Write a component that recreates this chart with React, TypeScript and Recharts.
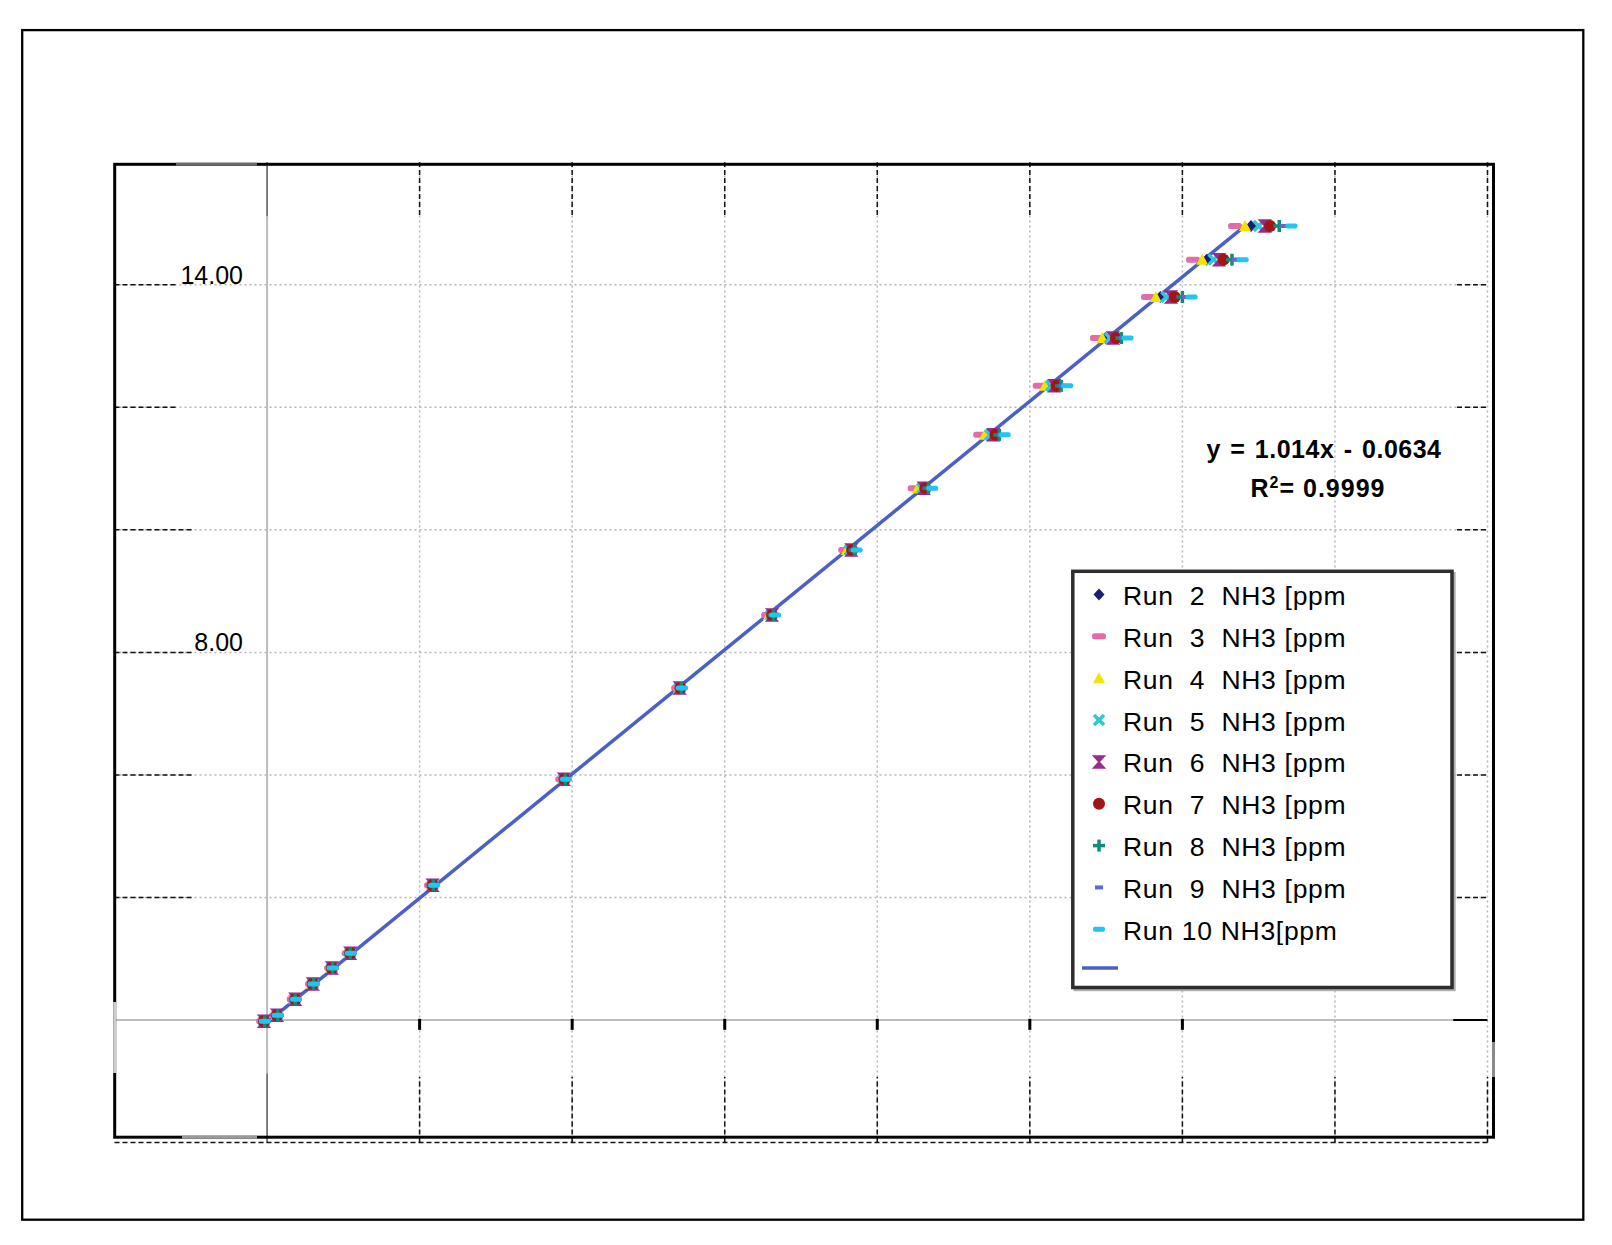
import React from "react";
import { ComposedChart, Scatter, Line, XAxis, YAxis, ReferenceLine } from "recharts";

// Reference concentration levels (y) shared by every run
const levels = [1.98, 2.08, 2.34, 2.59, 2.85, 3.09, 4.2, 5.93, 7.42, 8.61, 9.67, 10.68, 11.55, 12.35, 13.13, 13.8, 14.41, 14.96];

// Measured NH3 per run (x), one value per level
const run2 = [1.96, 2.13, 2.36, 2.6, 2.85, 3.08, 4.16, 5.88, 7.4, 8.59, 9.62, 10.56, 11.44, 12.23, 12.99, 13.71, 14.32, 14.9];
const run3 = [1.95, 2.12, 2.35, 2.59, 2.84, 3.07, 4.15, 5.87, 7.39, 8.57, 9.58, 10.49, 11.35, 12.13, 12.88, 13.55, 14.14, 14.69];
const run4 = [1.96, 2.12, 2.36, 2.59, 2.84, 3.08, 4.16, 5.88, 7.4, 8.58, 9.6, 10.53, 11.41, 12.2, 12.95, 13.65, 14.26, 14.82];
const run5 = [1.96, 2.13, 2.36, 2.6, 2.85, 3.09, 4.17, 5.89, 7.41, 8.61, 9.64, 10.59, 11.48, 12.28, 13.05, 13.79, 14.41, 15.0];
const run6 = [1.96, 2.13, 2.37, 2.6, 2.85, 3.09, 4.17, 5.89, 7.41, 8.62, 9.66, 10.61, 11.52, 12.32, 13.09, 13.85, 14.48, 15.08];
const run7 = [1.96, 2.13, 2.37, 2.6, 2.85, 3.09, 4.17, 5.9, 7.42, 8.62, 9.67, 10.63, 11.55, 12.35, 13.13, 13.9, 14.54, 15.15];
const run8 = [1.97, 2.14, 2.37, 2.61, 2.86, 3.09, 4.18, 5.91, 7.43, 8.64, 9.7, 10.67, 11.6, 12.41, 13.2, 14.0, 14.65, 15.27];
const run9 = [1.97, 2.14, 2.37, 2.61, 2.86, 3.1, 4.18, 5.91, 7.43, 8.64, 9.71, 10.69, 11.62, 12.43, 13.22, 14.04, 14.7, 15.32];
const run10 = [1.97, 2.14, 2.38, 2.61, 2.86, 3.1, 4.19, 5.92, 7.44, 8.66, 9.73, 10.72, 11.67, 12.49, 13.28, 14.12, 14.79, 15.43];

// linear trendline end points
const trendX = [1.95, 14.85];
const trendY = [1.91, 14.99];

const xGrid = [4, 6, 8, 10, 12, 14, 16, 18];
const yGrid = [4, 6, 8, 10, 12, 14];
const axisTicks = [4, 6, 8, 10, 12, 14];
const yLabelTicks = [8, 14];

const equation = "y = 1.014x - 0.0634";
const r2Value = "0.9999";

const FONT = "'Liberation Sans', Arial, sans-serif";

type Kind = "diamond" | "dash" | "triangle" | "cross" | "bowtie" | "circle" | "plus" | "smalldash" | "widedash";

const runs: { name: string; xs: number[]; kind: Kind; color: string }[] = [
  { name: "Run  2  NH3 [ppm", xs: run2, kind: "diamond", color: "#1c1c7a" },
  { name: "Run  3  NH3 [ppm", xs: run3, kind: "dash", color: "#e46aa8" },
  { name: "Run  4  NH3 [ppm", xs: run4, kind: "triangle", color: "#f2e400" },
  { name: "Run  5  NH3 [ppm", xs: run5, kind: "cross", color: "#33c6d6" },
  { name: "Run  6  NH3 [ppm", xs: run6, kind: "bowtie", color: "#982c8c" },
  { name: "Run  7  NH3 [ppm", xs: run7, kind: "circle", color: "#a31515" },
  { name: "Run  8  NH3 [ppm", xs: run8, kind: "plus", color: "#138a7a" },
  { name: "Run  9  NH3 [ppm", xs: run9, kind: "smalldash", color: "#5a6ccc" },
  { name: "Run 10 NH3[ppm", xs: run10, kind: "widedash", color: "#1ec6f0" },
];

function Marker({ kind, color, cx, cy }: { kind: Kind; color: string; cx: number; cy: number }) {
  if (cx == null || cy == null) return null;
  switch (kind) {
    case "diamond":
      return <polygon points={`${cx},${cy - 6} ${cx + 5.5},${cy} ${cx},${cy + 6} ${cx - 5.5},${cy}`} fill={color} />;
    case "dash":
      return <rect x={cx - 7} y={cy - 3} width={14} height={6} rx={2.5} fill={color} />;
    case "triangle":
      return <polygon points={`${cx},${cy - 6} ${cx + 6},${cy + 5} ${cx - 6},${cy + 5}`} fill={color} />;
    case "cross":
      return (
        <g stroke={color} strokeWidth={3.5}>
          <line x1={cx - 5} y1={cy - 5} x2={cx + 5} y2={cy + 5} />
          <line x1={cx - 5} y1={cy + 5} x2={cx + 5} y2={cy - 5} />
        </g>
      );
    case "bowtie":
      return <polygon points={`${cx - 5.5},${cy - 6} ${cx + 5.5},${cy - 6} ${cx - 5.5},${cy + 6} ${cx + 5.5},${cy + 6}`} fill={color} stroke={color} strokeWidth={1.5} />;
    case "circle":
      return <circle cx={cx} cy={cy} r={6} fill={color} />;
    case "plus":
      return (
        <g stroke={color} strokeWidth={3.5}>
          <line x1={cx - 6} y1={cy} x2={cx + 6} y2={cy} />
          <line x1={cx} y1={cy - 6} x2={cx} y2={cy + 6} />
        </g>
      );
    case "smalldash":
      return <rect x={cx - 4} y={cy - 2} width={8} height={4} fill={color} />;
    case "widedash":
      return <rect x={cx - 6} y={cy - 2.5} width={12} height={5} rx={2} fill={color} />;
  }
  return null;
}

const grayDot = { stroke: "#b5b5b5", strokeDasharray: "2 3", strokeWidth: 1.5 };
const blackDash = { stroke: "#111", strokeDasharray: "5 3", strokeWidth: 1.5 };

function yLabel(value: number) {
  return (props: any) => (
    <text x={243} y={props.viewBox.y - 1} textAnchor="end" fontSize={25} fontFamily={FONT} fill="#000">
      {value.toFixed(2)}
    </text>
  );
}

export default function App() {
  const trend = trendX.map((x, i) => ({ x, y: trendY[i] }));

  return (
    <div style={{ position: "relative", width: 1612, height: 1245, background: "#fff" }}>
      <style>{"body{margin:0}"}</style>
      <ComposedChart
        width={1612}
        height={1245}
        margin={{ top: 162.2, right: 124.5, bottom: 102.4, left: 114.5 }}
      >
        <XAxis type="number" dataKey="x" domain={[0, 18]} hide allowDataOverflow />
        <YAxis type="number" dataKey="y" domain={[0, 16]} hide allowDataOverflow />

        {/* dotted grid */}
        {xGrid.map((v) => (
          <ReferenceLine key={"gx" + v} x={v} {...grayDot} />
        ))}
        {yGrid.map((v) => (
          <ReferenceLine key={"gy" + v} y={v} {...grayDot} />
        ))}

        {/* crossing axes at 2 */}
        <ReferenceLine segment={[{ x: 2, y: 1.13 }, { x: 2, y: 15.12 }]} stroke="#bdbdbd" strokeWidth={2} />
        <ReferenceLine segment={[{ x: 2, y: 15.12 }, { x: 2, y: 16 }]} stroke="#000" strokeWidth={1} />
        <ReferenceLine segment={[{ x: 2, y: 0 }, { x: 2, y: 1.13 }]} stroke="#000" strokeWidth={1} />
        <ReferenceLine segment={[{ x: 0, y: 2 }, { x: 17.55, y: 2 }]} stroke="#bdbdbd" strokeWidth={2} />
        <ReferenceLine segment={[{ x: 17.55, y: 2 }, { x: 18, y: 2 }]} stroke="#000" strokeWidth={2} />
        <ReferenceLine y={0} {...blackDash} />

        {/* dark dashed ends of the grid */}
        {xGrid.map((v) => (
          <ReferenceLine key={"tx" + v} segment={[{ x: v, y: 15.14 }, { x: v, y: 16 }]} {...blackDash} />
        ))}
        {xGrid.map((v) => (
          <ReferenceLine key={"bx" + v} segment={[{ x: v, y: 0 }, { x: v, y: 1.07 }]} {...blackDash} />
        ))}
        {yGrid.map((v) => (
          <ReferenceLine key={"ly" + v} segment={[{ x: 0, y: v }, { x: v >= 12 ? 0.81 : 1.02, y: v }]} {...blackDash} />
        ))}
        {yGrid.map((v) => (
          <ReferenceLine key={"ry" + v} segment={[{ x: 17.6, y: v }, { x: 18, y: v }]} {...blackDash} />
        ))}
        {axisTicks.map((v) => (
          <ReferenceLine key={"tk" + v} segment={[{ x: v, y: 1.84 }, { x: v, y: 2.02 }]} stroke="#000" strokeWidth={3} />
        ))}

        {/* value labels on the left */}
        {yLabelTicks.map((v) => (
          <ReferenceLine key={"lbl" + v} y={v} stroke="none" label={yLabel(v)} />
        ))}

        {runs.map((r) => (
          <Scatter
            key={r.name}
            name={r.name}
            data={r.xs.map((x, i) => ({ x, y: levels[i] }))}
            isAnimationActive={false}
            shape={(p: any) => <Marker kind={r.kind} color={r.color} cx={p.cx} cy={p.cy} />}
          />
        ))}

        <Line
          data={trend}
          dataKey="y"
          type="linear"
          stroke="#4a60c6"
          strokeWidth={3.5}
          dot={false}
          activeDot={false}
          isAnimationActive={false}
        />
      </ComposedChart>

      <svg
        width={1612}
        height={1245}
        style={{ position: "absolute", left: 0, top: 0, pointerEvents: "none" }}
      >
        <rect x={22.2} y={30.1} width={1561.1} height={1189.6} fill="none" stroke="#000" strokeWidth={2.3} />
        <rect x={114.7} y={164.3} width={1378.8} height={972.9} fill="none" stroke="#000" strokeWidth={3} />
        <line x1={176} x2={257} y1={164.3} y2={164.3} stroke="#6a6a6a" strokeWidth={3} />
        <line x1={182} x2={257} y1={1137.2} y2={1137.2} stroke="#9a9a9a" strokeWidth={3} />
        <line x1={114.7} x2={114.7} y1={1002} y2={1073} stroke="#cfcfcf" strokeWidth={3} />
        <line x1={1493.5} x2={1493.5} y1={1042} y2={1077} stroke="#8a8a8a" strokeWidth={3} />

        <text x={1324} y={458} textAnchor="middle" fontFamily={FONT} fontWeight="bold" fontSize={25} letterSpacing={0.5} wordSpacing={2} fill="#000">
          {equation}
        </text>
        <text x={1318} y={497} textAnchor="middle" fontFamily={FONT} fontWeight="bold" fontSize={25} letterSpacing={1} fill="#000" xmlSpace="preserve">
          <tspan>R</tspan>
          <tspan fontSize={16} dy={-9}>2</tspan>
          <tspan dy={9}>{"= " + r2Value}</tspan>
        </text>

        {/* legend */}
        <rect x={1075} y={573.5} width={379.2} height={416.2} fill="none" stroke="#b0b0b0" strokeWidth={3} />
        <rect x={1072.8} y={571.3} width={379.2} height={416.2} fill="#fff" stroke="#2e2e2e" strokeWidth={3.5} />
        {runs.map((r, i) => (
          <g key={r.name}>
            <Marker kind={r.kind} color={r.color} cx={1099} cy={594.5 + 41.85 * i} />
            <text
              x={1123}
              y={605 + 41.85 * i}
              fontSize={26.5}
              letterSpacing={0.7}
              fontFamily={FONT}
              fill="#000"
              xmlSpace="preserve"
              style={{ whiteSpace: "pre" }}
            >
              {r.name}
            </text>
          </g>
        ))}
        <line x1={1082} x2={1118} y1={968} y2={968} stroke="#4a60c6" strokeWidth={3.5} />
      </svg>
    </div>
  );
}
